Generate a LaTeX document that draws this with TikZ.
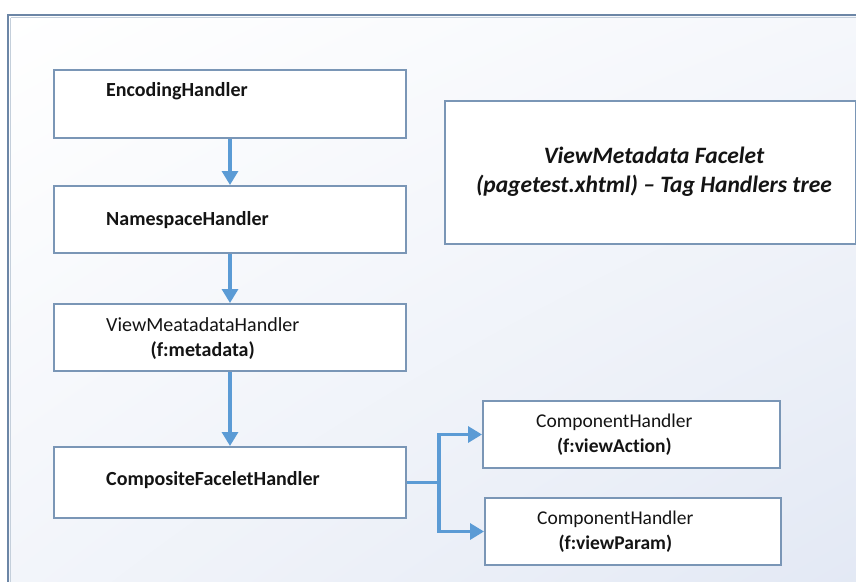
\documentclass[tikz,border=0pt]{standalone}
\usepackage{fontspec}
\setmainfont{Carlito}[Ligatures=NoCommon]
\usetikzlibrary{arrows.meta,calc,shadings}
\definecolor{boxline}{RGB}{122,150,182}
\definecolor{arrowblue}{RGB}{91,155,213}
\definecolor{frameline}{RGB}{108,134,166}
\definecolor{bgblue}{RGB}{226,232,244}
\definecolor{txt}{RGB}{20,20,20}
\tikzset{
  handlerbox/.style={draw=boxline, line width=2pt, fill=white, inner sep=0pt},
  handlertext/.style={anchor=west, inner sep=0pt, align=center, text=txt,
    font=\fontsize{20}{25}\selectfont},
  flowarrow/.style={draw=arrowblue, line width=3.2pt, -{Triangle[length=14pt,width=16pt]}},
  flowline/.style={draw=arrowblue, line width=3.2pt}
}
\begin{document}
\begin{tikzpicture}[x=1pt,y=-1pt]
\useasboundingbox (0,0) rectangle (856,581);
\begin{scope}
\clip (0,0) rectangle (856,581);
\shade[upper left=white, upper right=white!65!bgblue, lower left=white!55!bgblue, lower right=bgblue] (8,15) rectangle (880,600);
\draw[frameline, line width=2.4pt] (8,15) rectangle (880,600);
\draw[white!60!frameline, line width=0.8pt] (10.5,17.5) -- (880,17.5);
\draw[white!60!frameline, line width=0.8pt] (10.5,17.5) -- (10.5,600);
\end{scope}

% boxes
\node[handlerbox, minimum width=352pt, minimum height=68pt, anchor=north west] (enc) at (53,69) {};
\node[handlerbox, minimum width=352pt, minimum height=67pt, anchor=north west] (ns) at (53,185) {};
\node[handlerbox, minimum width=352pt, minimum height=67pt, anchor=north west] (vm) at (53,303) {};
\node[handlerbox, minimum width=352pt, minimum height=71pt, anchor=north west] (cf) at (53,446) {};
\node[handlerbox, minimum width=297pt, minimum height=67pt, anchor=north west] (va) at (482,400) {};
\node[handlerbox, minimum width=296pt, minimum height=67pt, anchor=north west] (vp) at (484,497) {};
\node[handlerbox, minimum width=411pt, minimum height=143pt, anchor=north west] (title) at (444,100) {};

% texts
\node[handlertext] (enct) at (106,91) {\bfseries EncodingHandler};
\node[handlertext] (nst) at (106,220) {\bfseries NamespaceHandler};
\node[handlertext] (vmt) at (106,338.5) {ViewMeatadataHandler\\\bfseries (f:metadata)};
\node[handlertext] (cft) at (106,480) {\bfseries CompositeFaceletHandler};
\node[handlertext, font=\fontsize{19.5}{25}\selectfont] (vat) at (536,434.5) {ComponentHandler\\\bfseries (f:viewAction)};
\node[handlertext, font=\fontsize{19.5}{25}\selectfont] (vpt) at (537,532) {ComponentHandler\\\bfseries (f:viewParam)};
\node[inner sep=0pt, align=center, text=txt, font=\fontsize{23.5}{29}\selectfont\bfseries\itshape] (titlet) at (654,171.5)
  {ViewMetadata Facelet\\(pagetest.xhtml) -- Tag Handlers tree};

% connectors
\draw[flowarrow] (enc.south) -- (ns.north);
\draw[flowarrow] (ns.south) -- (vm.north);
\draw[flowarrow] (vm.south) -- (cf.north);
\coordinate (split) at ($(cf.east)+(32,0)$);
\draw[flowline] (cf.east) -- (split);
\draw[flowarrow] (split) |- (va.west);
\draw[flowarrow] (split) |- (vp.west);
\end{tikzpicture}
\end{document}
